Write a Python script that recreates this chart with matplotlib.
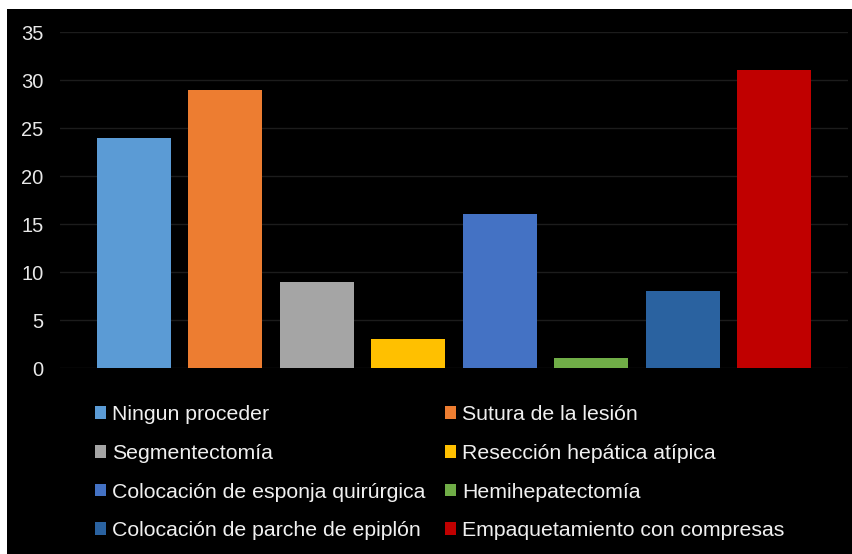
import matplotlib.pyplot as plt
import numpy as np
from matplotlib.patches import Rectangle, Patch

plt.rcParams['font.family'] = ['Liberation Sans', 'DejaVu Sans']

# datos
categorias = ['Ningun proceder', 'Sutura de la lesión', 'Segmentectomía',
              'Resección hepática atípica', 'Colocación de esponja quirúrgica',
              'Hemihepatectomía', 'Colocación de parche de epiplón',
              'Empaquetamiento con compresas']
valores = [24, 29, 9, 3, 16, 1, 8, 31]
colores = ['#5B9BD5', '#ED7D31', '#A5A5A5', '#FFC000',
           '#4472C4', '#70AD47', '#2A62A0', '#C00000']
yticks = [0, 5, 10, 15, 20, 25, 30, 35]

fig = plt.figure(figsize=(8.53, 5.54), dpi=100)
fig.patch.set_facecolor('white')
# fondo negro (con borde blanco arriba e izquierda)
fig.patches.append(Rectangle((7 / 853, 0), 1, (554 - 9) / 554,
                             transform=fig.transFigure, facecolor='black',
                             edgecolor='none', zorder=-1))

ax = fig.add_axes([60 / 853, (554 - 368) / 554, 788 / 853, 336 / 554])
ax.set_facecolor('black')
ax.set_zorder(2)

x = np.arange(len(valores))
bars = ax.bar(x, valores, width=0.81, color=colores, zorder=3)

ax.set_xlim(-0.81, 7.81)
ax.set_ylim(0, 35)
ax.set_yticks(yticks)
ax.set_xticks([])
ax.grid(axis='y', color='#1c1c1c', linewidth=1, zorder=0)
for s in ax.spines.values():
    s.set_visible(False)
ax.tick_params(axis='y', length=0, pad=12, labelsize=14.5, labelcolor='#e8e8e8')

# leyenda en 2 columnas, orden por filas
orden = [0, 2, 4, 6, 1, 3, 5, 7]
handles = [Patch(facecolor=colores[i], edgecolor='none') for i in orden]
labels = [categorias[i] for i in orden]
leg = fig.legend(handles, labels, ncol=2, loc='upper left',
                 bbox_to_anchor=(95 / 853, 1 - 405 / 554),
                 frameon=False, fontsize=15.3, labelcolor='#f0f0f0',
                 handlelength=0.5, handleheight=0.55, handletextpad=0.3,
                 columnspacing=0.92, labelspacing=0.93, borderaxespad=0,
                 borderpad=0)
leg.set_zorder(3)

fig.savefig('out.png', dpi=100, facecolor=fig.get_facecolor())
